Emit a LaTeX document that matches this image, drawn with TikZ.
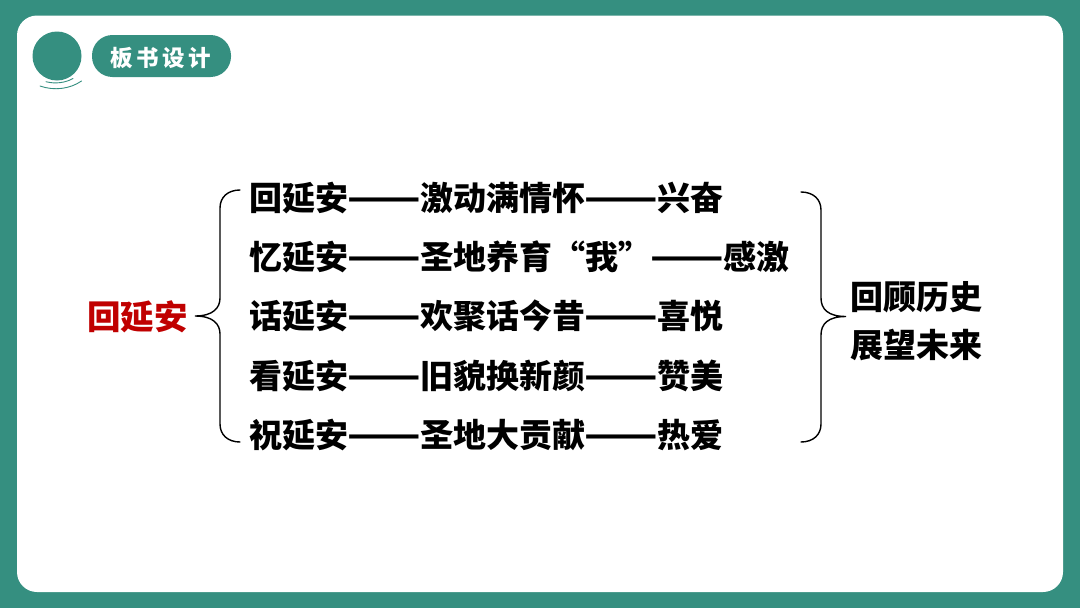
\documentclass[tikz,border=0pt]{standalone}
\usepackage{graphicx}
\usepackage{fontspec}
\newfontfamily\cjkb{Noto Sans CJK SC Black}
\definecolor{teal1}{HTML}{358F80}
\definecolor{red1}{HTML}{C00000}
\newcommand{\dashpair}{\makebox[72pt]{\scalebox{1.3}[1.1]{——}}}
\tikzset{
  rowtext/.style={anchor=west,inner sep=0pt,font=\cjkb\fontsize{33}{33}\selectfont,text=black},
  bracel/.style={draw=black,line width=1.4pt,line cap=round},
  swoosh/.style={draw=teal1,line width=0.9pt,line cap=round}
}
\begin{document}
\begin{tikzpicture}[x=1pt,y=-1pt]
\useasboundingbox (0,0) rectangle (1080,608);
\fill[teal1] (0,0) rectangle (1080,608);
\fill[white,rounded corners=20pt] (17,15.5) rectangle (1063,592);
% badge
\fill[teal1] (57,56) circle (24.5);
\draw[swoosh] (46,81.7) .. controls (55,84) and (65,83) .. (73,78.5);
\draw[swoosh] (40,86) .. controls (54,91) and (70,89) .. (81.5,81);
\node[fill=teal1,rounded corners=20.5pt,minimum width=139pt,minimum height=42pt,inner sep=0pt] (pill) at (161.5,56) {};
\node[inner sep=0pt,text=white,font=\cjkb\fontsize{22.5}{22}\selectfont] (title) at (161,58) {板\hspace{3.5pt}书\hspace{3.5pt}设\hspace{3.5pt}计};
% rows
\node[rowtext] (r1) at (249,198) {回延安\dashpair 激动满情怀\dashpair 兴奋};
\node[rowtext] (r2) at (249,257) {忆延安\dashpair 圣地养育“我”\dashpair 感激};
\node[rowtext] (r3) at (249,316) {话延安\dashpair 欢聚话今昔\dashpair 喜悦};
\node[rowtext] (r4) at (249,376) {看延安\dashpair 旧貌换新颜\dashpair 赞美};
\node[rowtext] (r5) at (249,435) {祝延安\dashpair 圣地大贡献\dashpair 热爱};
% sides
\node[rowtext,text=red1,font=\cjkb\fontsize{33.5}{33}\selectfont] (main) at (87,317) {回延安};
\node[rowtext] (s1) at (850,297) {回顾历史};
\node[rowtext] (s2) at (850,345) {展望未来};
% left brace
\coordinate (lt) at (240,190);
\coordinate (lb) at (240,442);
\coordinate (lm) at (195,316);
\draw[bracel] (lt) .. controls (228,190) and (220,197) .. (220,208)
  -- (220,298) .. controls (220,308) and (213,316) .. (lm)
  .. controls (213,316) and (220,324) .. (220,334)
  -- (220,424) .. controls (220,435) and (228,442) .. (lb);
% right brace
\coordinate (rt) at (801,192);
\coordinate (rb) at (801,442);
\coordinate (rm) at (846,316.5);
\draw[bracel] (rt) .. controls (813,192) and (821,199) .. (821,210)
  -- (821,298) .. controls (821,309) and (828,316.5) .. (rm)
  .. controls (828,316.5) and (821,324) .. (821,335)
  -- (821,424) .. controls (821,435) and (813,442) .. (rb);
\end{tikzpicture}
\end{document}
